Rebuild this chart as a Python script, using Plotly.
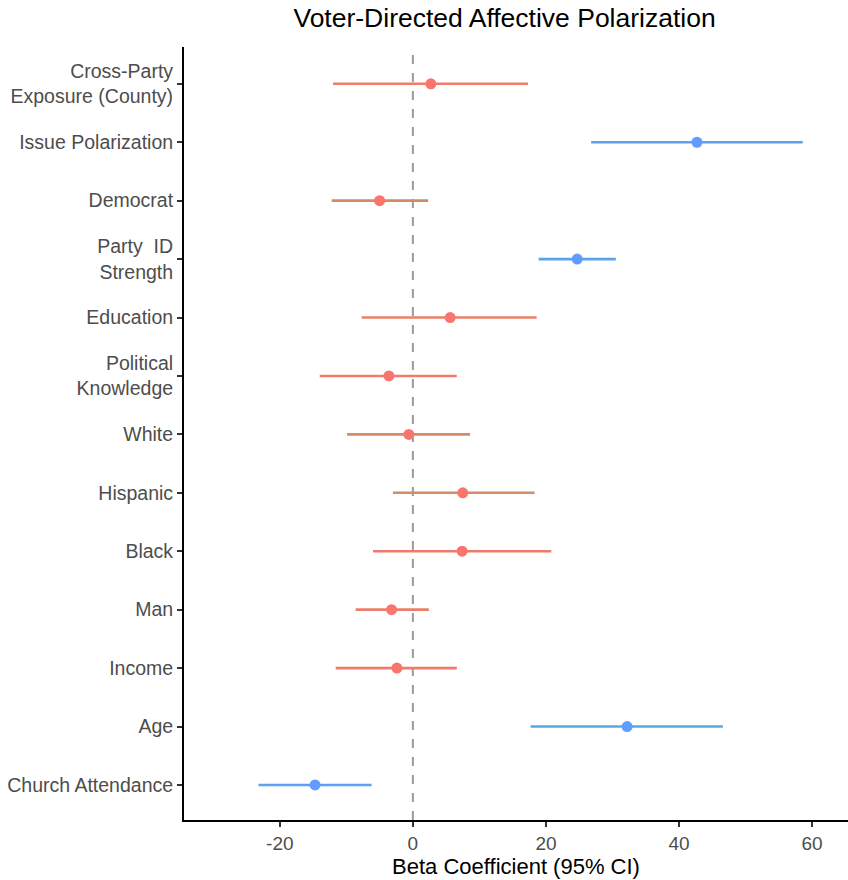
import plotly.graph_objects as go

# Model terms, top to bottom
terms = [
    "Cross-Party<br>Exposure (County)",
    "Issue Polarization",
    "Democrat",
    "Party  ID<br>Strength",
    "Education",
    "Political<br>Knowledge",
    "White",
    "Hispanic",
    "Black",
    "Man",
    "Income",
    "Age",
    "Church Attendance",
]
estimate = [2.7, 42.7, -5.0, 24.7, 5.6, -3.6, -0.6, 7.5, 7.4, -3.2, -2.4, 32.2, -14.7]
ci_low = [-12.0, 26.8, -12.2, 18.9, -7.7, -14.0, -9.9, -3.0, -6.0, -8.6, -11.6, 17.7, -23.2]
ci_high = [17.3, 58.6, 2.3, 30.5, 18.6, 6.6, 8.6, 18.3, 20.8, 2.4, 6.6, 46.6, -6.2]
significant = [False, True, False, True, False, False, False, False, False, False, False, True, True]

RED = "#F8766D"
BLUE = "#619CFF"
# interval colours (a few intervals carry a warmer, browner tone)
interval_color = [
    "#EE7E68", "#5DA0F4", "#CF8C68", "#58A3EC", "#EE7E68", "#F07B6B",
    "#D88A68", "#D48C68", "#F07B6B", "#EA7F69", "#F07B6B", "#58A8DC", "#5DA0F4",
]

fig = go.Figure()

# reference line at zero
fig.add_vline(x=0, line=dict(color="#9A9A9A", width=2, dash="dash"), layer="below")

for i, t in enumerate(terms):
    fig.add_trace(go.Scatter(
        x=[estimate[i]], y=[i],
        mode="markers",
        marker=dict(size=11, color=BLUE if significant[i] else RED),
        error_x=dict(
            type="data", symmetric=False,
            array=[ci_high[i] - estimate[i]],
            arrayminus=[estimate[i] - ci_low[i]],
            color=interval_color[i], thickness=2.6, width=0,
        ),
        showlegend=False,
        hoverinfo="skip",
    ))

fig.update_layout(
    width=848, height=880,
    margin=dict(l=184, r=0, t=47, b=60),
    paper_bgcolor="white",
    plot_bgcolor="white",
    font=dict(family="Liberation Sans, Arial, sans-serif", color="#4D4D4D"),
    title=dict(
        text="Voter-Directed Affective Polarization",
        x=0.595, xanchor="center", y=0.98, yanchor="middle",
        font=dict(size=26.5, color="black"),
    ),
)

fig.update_xaxes(
    range=[-34.4, 65.4],
    tickvals=[-20, 0, 20, 40, 60],
    ticktext=["-20", "0", "20", "40", "60"],
    showgrid=False, zeroline=False,
    showline=True, linecolor="black", linewidth=2,
    ticks="outside", ticklen=5, tickcolor="#333333", tickwidth=1.5,
    tickfont=dict(size=19, color="#4D4D4D"),
    title=dict(text="Beta Coefficient (95% CI)", font=dict(size=22, color="black"), standoff=4),
)
fig.update_yaxes(
    range=[12.6, -0.63],
    tickvals=list(range(len(terms))),
    ticktext=terms,
    showgrid=False, zeroline=False,
    showline=True, linecolor="black", linewidth=2,
    ticks="outside", ticklen=5, tickcolor="#333333", tickwidth=1.5,
    tickfont=dict(size=19.5, color="#4D4D4D"),
)

fig.write_html("out.html")
